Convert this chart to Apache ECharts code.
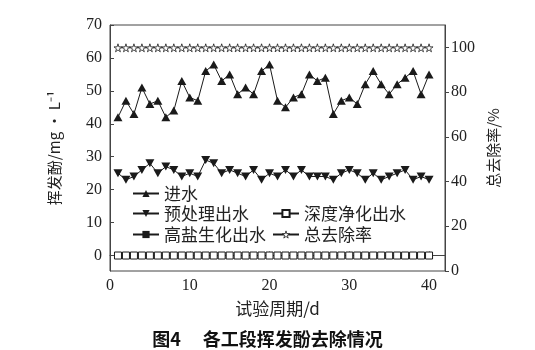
<!DOCTYPE html>
<html><head><meta charset="utf-8">
<script src="https://cdn.jsdelivr.net/npm/echarts@6/dist/echarts.min.js"></script>
<style>html,body{margin:0;padding:0;background:#fff}#c{width:535px;height:350px}</style>
</head><body><div id="c"></div>
<script>
const days = [];
for (let i = 1; i <= 40; i++) days.push(i);
const inflow = [42,47,43,51,46,47,42,44,53,48,47,56,58,53,55,49,51,49,56,58,47,45,48,49,55,53,54,43,47,48,46,52,56,52,49,52,54,56,49,55];
const pretreated = [25,23,24,26,28,25,27,26,24,25,24,29,28,25,26,25,24,26,23,25,24,26,24,26,24,24,24,23,25,26,25,23,25,23,24,25,26,23,24,23];
const deepPurified = [0,0,0,0,0,0,0,0,0,0,0,0,0,0,0,0,0,0,0,0,0,0,0,0,0,0,0,0,0,0,0,0,0,0,0,0,0,0,0,0];
const highSaltBio = [0,0,0,0,0,0,0,0,0,0,0,0,0,0,0,0,0,0,0,0,0,0,0,0,0,0,0,0,0,0,0,0,0,0,0,0,0,0,0,0];
const removalRate = [99.8,99.8,99.8,99.8,99.8,99.8,99.8,99.8,99.8,99.8,99.8,99.8,99.8,99.8,99.8,99.8,99.8,99.8,99.8,99.8,99.8,99.8,99.8,99.8,99.8,99.8,99.8,99.8,99.8,99.8,99.8,99.8,99.8,99.8,99.8,99.8,99.8,99.8,99.8,99.8];
const xTicks = [0,10,20,30,40];
const leftTicks = [0,10,20,30,40,50,60,70];
const rightTicks = [0,20,40,60,80,100];

const star = 'path://M50,0 L61,35 L98,35 L68,57 L79,91 L50,70 L21,91 L32,57 L2,35 L39,35 Z';
const ink = '#1a1a1a';
const axisCol = '#444';
const serif = 'Liberation Serif';
const cjk = 'Noto Sans CJK SC';

function pair(arr){ return arr.map((v,i)=>[days[i], v]); }

const chart = echarts.init(document.getElementById('c'), null, {renderer:'canvas'});
const legendBase = {
  orient:'horizontal', itemWidth:26, itemHeight:9, itemGap:6, padding:0,
  textStyle:{fontFamily:cjk, fontSize:17, color:'#222'}, selectedMode:false
};
const hollowStar = {color:'#fff', borderColor:ink, borderWidth:0.8};
chart.setOption({
  animation:false,
  backgroundColor:'#fff',
  title:{text:'图4　 各工段挥发酚去除情况', left:'center', top:325,
    textStyle:{fontFamily:cjk, fontSize:18, fontWeight:'bold', color:'#111'}},
  grid:{left:110, right:90, top:25, bottom:79, show:true, borderColor:axisCol, borderWidth:1},
  legend:[
    Object.assign({}, legendBase, {data:['进水'], left:132, top:185}),
    Object.assign({}, legendBase, {data:['预处理出水'], left:132, top:205}),
    Object.assign({}, legendBase, {data:['深度净化出水'], left:272, top:205}),
    Object.assign({}, legendBase, {data:['高盐生化出水'], left:132, top:226}),
    Object.assign({}, legendBase, {data:[{name:'总去除率', itemStyle:hollowStar}], left:272, top:226})
  ],
  xAxis:{type:'value', min:0, max:42, interval:10,
    name:'试验周期/d', nameLocation:'middle', nameGap:29,
    nameTextStyle:{fontFamily:cjk, fontSize:17, color:'#222'},
    axisLine:{lineStyle:{color:axisCol}},
    axisTick:{inside:true, length:4, lineStyle:{color:axisCol}, customValues:xTicks},
    axisLabel:{fontFamily:serif, fontSize:16, color:'#222', margin:7, customValues:xTicks},
    splitLine:{show:false}},
  yAxis:[
    {type:'value', min:-4.7, max:70, position:'left',
      name:'挥发酚/mg · L⁻¹', nameLocation:'middle', nameGap:48, nameRotate:90,
      nameTextStyle:{fontFamily:cjk, fontSize:15, color:'#222'},
      axisLine:{show:true, lineStyle:{color:axisCol}},
      axisTick:{show:true, inside:true, length:4, lineStyle:{color:axisCol}, customValues:leftTicks},
      axisLabel:{fontFamily:serif, fontSize:16, color:'#222', margin:8, customValues:leftTicks},
      splitLine:{show:false}},
    {type:'value', min:0, max:110, position:'right',
      name:'总去除率/%', nameLocation:'middle', nameGap:38, nameRotate:90,
      nameTextStyle:{fontFamily:cjk, fontSize:15, color:'#222'},
      axisLine:{show:true, lineStyle:{color:axisCol}},
      axisTick:{show:true, inside:false, length:4, lineStyle:{color:axisCol}, customValues:rightTicks},
      axisLabel:{fontFamily:serif, fontSize:16, color:'#222', margin:6, customValues:rightTicks},
      splitLine:{show:false}}
  ],
  series:[
    {name:'进水', type:'line', yAxisIndex:0, data:pair(inflow), symbol:'triangle', symbolSize:[9,8],
      lineStyle:{color:ink, width:1}, itemStyle:{color:ink}, z:3},
    {name:'预处理出水', type:'line', yAxisIndex:0, data:pair(pretreated), symbol:'triangle', symbolRotate:180, symbolSize:[9,8],
      lineStyle:{color:ink, width:1}, itemStyle:{color:ink}, z:3},
    {name:'高盐生化出水', type:'line', yAxisIndex:0, data:pair(highSaltBio), symbol:'rect', symbolSize:7,
      lineStyle:{color:ink, width:1}, itemStyle:{color:ink}, z:2},
    {name:'深度净化出水', type:'line', yAxisIndex:0, data:pair(deepPurified), symbol:'rect', symbolSize:7,
      lineStyle:{color:ink, width:1}, itemStyle:{color:'#fff', borderColor:ink, borderWidth:1}, z:4},
    {name:'总去除率', type:'line', yAxisIndex:1, data:pair(removalRate), symbol:star, symbolSize:8,
      lineStyle:{color:ink, width:1}, itemStyle:hollowStar, z:3}
  ]
});
</script></body></html>
